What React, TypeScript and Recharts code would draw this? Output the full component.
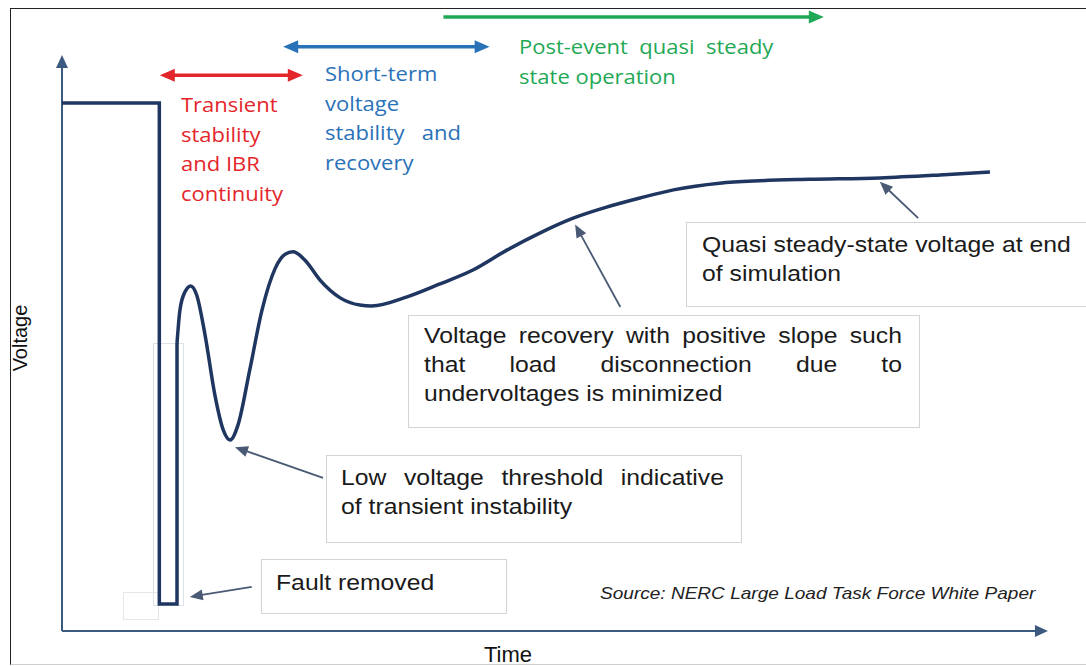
import { LineChart, Line, XAxis, YAxis, ReferenceLine } from 'recharts';

// time in arbitrary units (0..100), voltage in p.u.
const faultStep = [
  { t: 0, v: 1.1 },
  { t: 9.9, v: 1.1 },
  { t: 9.9, v: 0.056 },
  { t: 11.7, v: 0.056 },
  { t: 11.7, v: 0.6 },
];

const recovery = [
  { t: 11.7, v: 0.6 },
  { t: 12.0, v: 0.669 },
  { t: 12.5, v: 0.706 },
  { t: 13.1, v: 0.719 },
  { t: 13.7, v: 0.7 },
  { t: 14.55, v: 0.617 },
  { t: 15.55, v: 0.492 },
  { t: 16.4, v: 0.419 },
  { t: 17.1, v: 0.398 },
  { t: 17.9, v: 0.429 },
  { t: 19.1, v: 0.544 },
  { t: 20.35, v: 0.669 },
  { t: 21.7, v: 0.756 },
  { t: 22.7, v: 0.785 },
  { t: 23.5, v: 0.79 },
  { t: 24.7, v: 0.773 },
  { t: 26.25, v: 0.731 },
  { t: 28.3, v: 0.694 },
  { t: 30.3, v: 0.679 },
  { t: 31.5, v: 0.677 },
  { t: 35.1, v: 0.696 },
  { t: 38.45, v: 0.723 },
  { t: 41.8, v: 0.752 },
  { t: 45.3, v: 0.794 },
  { t: 48.6, v: 0.829 },
  { t: 52.0, v: 0.86 },
  { t: 55.4, v: 0.883 },
  { t: 58.8, v: 0.902 },
  { t: 62.2, v: 0.919 },
  { t: 66.9, v: 0.933 },
  { t: 71.0, v: 0.938 },
  { t: 76.0, v: 0.941 },
  { t: 83.2, v: 0.944 },
  { t: 89.3, v: 0.95 },
  { t: 94.4, v: 0.956 },
];

// phase spans: [start, end, level]
const transientSpan = [9.95, 24.5, 1.158];
const shortTermSpan = [22.5, 43.5, 1.217];
const postEventSpan = [38.8, 77.5, 1.279];

const transientLines = ['Transient', 'stability', 'and IBR', 'continuity'];
const shortTermLines = ['Short-term', 'voltage', 'stability   and', 'recovery'];
const postEventLines = ['Post-event  quasi  steady', 'state operation'];

const quasiLines = ['Quasi steady-state voltage at end', 'of simulation'];
const recoveryLines = ['Voltage recovery with positive slope such', 'that load disconnection due to', 'undervoltages is minimized'];
const thresholdLines = ['Low voltage threshold indicative', 'of transient instability'];

// pointer arrows: [tailT, tailV, tipT, tipV]
const pointers = [
  [87.1, 0.86, 83.2, 0.936],
  [56.8, 0.675, 52.2, 0.847],
  [26.55, 0.319, 17.6, 0.383],
  [19.3, 0.092, 13.0, 0.071],
];

const AXIS = '#3c5a80';
const CURVE = '#1f3660';
const RED = '#e3262b';
const BLUE = '#2a72b8';
const GREEN = '#1fa855';
const POINTER = '#4a5a75';
const STRETCH = 1.1;

const makeArrow = (color: string, width: number, atStart: boolean, atEnd: boolean, len: number, half: number) =>
  (p: any) => {
    const { x1, y1, x2, y2 } = p;
    const a = Math.atan2(y2 - y1, x2 - x1);
    const c = Math.cos(a);
    const s = Math.sin(a);
    const head = (x: number, y: number, dir: number) => {
      const bx = x - dir * len * c;
      const by = y - dir * len * s;
      return `${x},${y} ${bx - half * s},${by + half * c} ${bx + half * s},${by - half * c}`;
    };
    const sx = atStart ? x1 + len * 0.7 * c : x1;
    const sy = atStart ? y1 + len * 0.7 * s : y1;
    const ex = atEnd ? x2 - len * 0.7 * c : x2;
    const ey = atEnd ? y2 - len * 0.7 * s : y2;
    return (
      <g>
        <line x1={sx} y1={sy} x2={ex} y2={ey} stroke={color} strokeWidth={width} />
        {atStart && <polygon points={head(x1, y1, -1)} fill={color} />}
        {atEnd && <polygon points={head(x2, y2, 1)} fill={color} />}
      </g>
    );
  };

const boxStyle: React.CSSProperties = {
  position: 'absolute',
  border: '1px solid #d4d4d4',
  background: 'transparent',
  boxSizing: 'border-box',
};

const arialText: React.CSSProperties = {
  position: 'absolute',
  fontFamily: '"Liberation Sans", Arial, sans-serif',
  fontSize: 22.5,
  lineHeight: '29px',
  color: '#1a1a1a',
  whiteSpace: 'nowrap',
  transform: `scaleX(${STRETCH})`,
  transformOrigin: 'left top',
};

const phaseText = (color: string): React.CSSProperties => ({
  position: 'absolute',
  fontFamily: '"Open Sans", sans-serif',
  fontSize: 20,
  lineHeight: '29.5px',
  color,
  whiteSpace: 'pre',
  transform: `scaleX(${STRETCH})`,
  transformOrigin: 'left top',
});

// justified block with explicit line breaks
const Justified = ({ lines, left, top, width }: { lines: string[]; left: number; top: number; width: number }) => (
  <div style={{ ...arialText, left, top, width: width / STRETCH, whiteSpace: 'normal' }}>
    {lines.map((l, i) => (
      <div key={l} style={{ textAlign: 'justify', textAlignLast: i < lines.length - 1 ? 'justify' : 'left' }}>
        {l}
      </div>
    ))}
  </div>
);

export default function App() {
  return (
    <div style={{ position: 'absolute', left: 0, top: 0, width: 1086, height: 666, background: '#fff', overflow: 'hidden' }}>
      <div
        style={{
          position: 'absolute',
          left: 10,
          top: 8,
          width: 1090,
          height: 655,
          borderTop: '1.5px solid #222',
          borderLeft: '1.5px solid #222',
          borderBottom: '1px solid #cfcfcf',
        }}
      />
      {/* faint leftover boxes near the fault */}
      <div style={{ ...boxStyle, left: 153, top: 343, width: 31, height: 263, borderColor: '#dde2ea' }} />
      <div style={{ ...boxStyle, left: 123, top: 592, width: 36, height: 28, borderColor: '#e6e6e6' }} />

      <div style={{ position: 'absolute', left: 0, top: 0 }}>
        <LineChart width={1086} height={666} margin={{ top: 7, right: 41, bottom: 35, left: 62 }}>
          <XAxis hide type="number" dataKey="t" domain={[0, 100]} allowDataOverflow />
          <YAxis hide type="number" domain={[0, 1.3]} allowDataOverflow />
          {/* axes with arrowheads */}
          <ReferenceLine
            ifOverflow="visible"
            segment={[{ x: 0, y: 0 }, { x: 0, y: 1.2 }]}
            shape={makeArrow(AXIS, 2, false, true, 13, 6)}
          />
          <ReferenceLine
            ifOverflow="visible"
            segment={[{ x: 0, y: 0 }, { x: 100.3, y: 0 }]}
            shape={makeArrow(AXIS, 2, false, true, 13, 6)}
          />
          {/* phase spans */}
          <ReferenceLine
            ifOverflow="visible"
            segment={[{ x: transientSpan[0], y: transientSpan[2] }, { x: transientSpan[1], y: transientSpan[2] }]}
            shape={makeArrow(RED, 3.5, true, true, 15, 6.5)}
          />
          <ReferenceLine
            ifOverflow="visible"
            segment={[{ x: shortTermSpan[0], y: shortTermSpan[2] }, { x: shortTermSpan[1], y: shortTermSpan[2] }]}
            shape={makeArrow(BLUE, 3.5, true, true, 15, 6.5)}
          />
          <ReferenceLine
            ifOverflow="visible"
            segment={[{ x: postEventSpan[0], y: postEventSpan[2] }, { x: postEventSpan[1], y: postEventSpan[2] }]}
            shape={makeArrow(GREEN, 3.5, false, true, 15, 6.5)}
          />
          {pointers.map((p, i) => (
            <ReferenceLine
              key={i}
              ifOverflow="visible"
              segment={[{ x: p[0], y: p[1] }, { x: p[2], y: p[3] }]}
              shape={makeArrow(POINTER, 1.8, false, true, 13, 5.5)}
            />
          ))}
          <Line
            data={faultStep}
            dataKey="v"
            type="linear"
            stroke={CURVE}
            strokeWidth={3.5}
            dot={false}
            strokeLinejoin="miter"
            isAnimationActive={false}
          />
          <Line
            data={recovery}
            dataKey="v"
            type="monotone"
            stroke={CURVE}
            strokeWidth={3.5}
            dot={false}
            isAnimationActive={false}
          />
        </LineChart>
      </div>

      {/* phase labels */}
      <div style={{ ...phaseText(RED), left: 181, top: 90 }}>
        {transientLines.map((l) => <div key={l}>{l}</div>)}
      </div>
      <div style={{ ...phaseText(BLUE), left: 325, top: 59 }}>
        {shortTermLines.map((l) => <div key={l}>{l}</div>)}
      </div>
      <div style={{ ...phaseText(GREEN), left: 519, top: 32 }}>
        {postEventLines.map((l) => <div key={l}>{l}</div>)}
      </div>

      {/* annotation boxes */}
      <div style={{ ...boxStyle, left: 686, top: 222, width: 420, height: 85 }} />
      <div style={{ ...arialText, left: 702, top: 230 }}>
        {quasiLines.map((l) => <div key={l}>{l}</div>)}
      </div>

      <div style={{ ...boxStyle, left: 408, top: 315, width: 512, height: 113 }} />
      <Justified lines={recoveryLines} left={424} top={321} width={478} />

      <div style={{ ...boxStyle, left: 326, top: 455, width: 416, height: 88 }} />
      <Justified lines={thresholdLines} left={341} top={463} width={383} />

      <div style={{ ...boxStyle, left: 261, top: 559, width: 246, height: 55 }} />
      <div style={{ ...arialText, left: 276, top: 568 }}>Fault removed</div>

      <div
        style={{
          position: 'absolute',
          left: 600,
          top: 584,
          fontFamily: '"Liberation Sans", Arial, sans-serif',
          fontStyle: 'italic',
          fontSize: 17,
          color: '#222',
          whiteSpace: 'nowrap',
          transform: 'scaleX(1.12)',
          transformOrigin: 'left top',
        }}
      >
        Source: NERC Large Load Task Force White Paper
      </div>

      {/* axis titles */}
      <div
        style={{
          position: 'absolute',
          left: 20,
          top: 338,
          transform: 'translate(-50%, -50%) rotate(-90deg)',
          fontFamily: '"Liberation Sans", Arial, sans-serif',
          fontSize: 20,
          color: '#111',
        }}
      >
        Voltage
      </div>
      <div
        style={{
          position: 'absolute',
          left: 508,
          top: 655,
          transform: 'translate(-50%, -50%)',
          fontFamily: '"Liberation Sans", Arial, sans-serif',
          fontSize: 22,
          color: '#111',
        }}
      >
        Time
      </div>
    </div>
  );
}
